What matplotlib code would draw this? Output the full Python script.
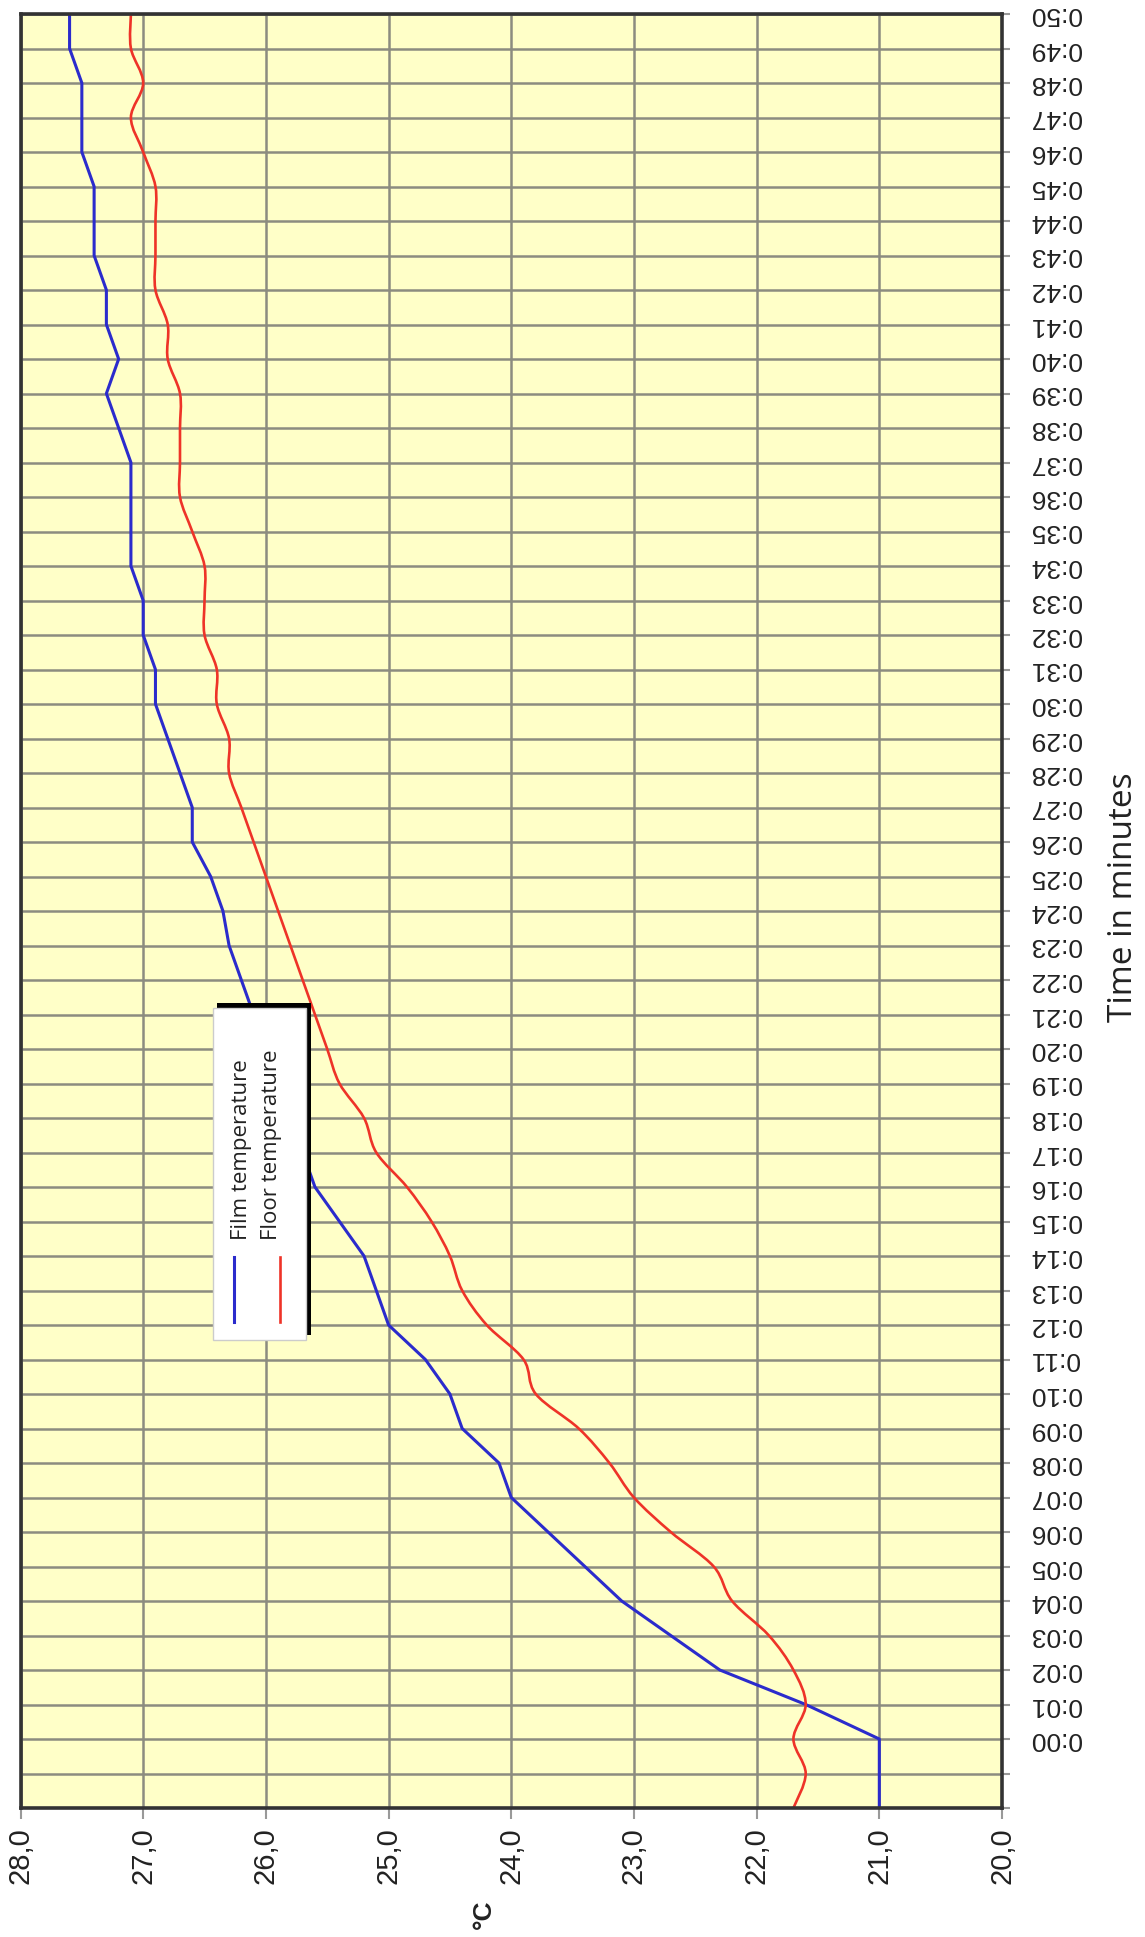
import matplotlib
matplotlib.use("Agg")
import matplotlib.pyplot as plt
from matplotlib.path import Path
from matplotlib.patches import PathPatch, Rectangle
from matplotlib.lines import Line2D

# time categories: two unlabelled slots before 0:00
time_labels = ["", ""] + ["0:%02d" % m for m in range(51)]

film_temp = [21.0, 21.0, 21.0, 21.6, 22.3, 22.7, 23.1, 23.4, 23.7, 24.0,
             24.1, 24.4, 24.5, 24.7, 25.0, 25.1, 25.2, 25.4, 25.6, 25.7,
             25.8, 25.9, 26.0, 26.1, 26.2, 26.3, 26.35, 26.45, 26.6, 26.6,
             26.7, 26.8, 26.9, 26.9, 27.0, 27.0, 27.1, 27.1, 27.1, 27.1,
             27.2, 27.3, 27.2, 27.3, 27.3, 27.4, 27.4, 27.4, 27.5, 27.5,
             27.5, 27.6, 27.6]

floor_temp = [21.7, 21.6, 21.7, 21.6, 21.7, 21.9, 22.2, 22.35, 22.7, 23.0,
              23.2, 23.45, 23.8, 23.9, 24.2, 24.4, 24.5, 24.65, 24.85, 25.1,
              25.2, 25.4, 25.5, 25.6, 25.7, 25.8, 25.9, 26.0, 26.1, 26.2,
              26.3, 26.3, 26.4, 26.4, 26.5, 26.5, 26.5, 26.6, 26.7, 26.7,
              26.7, 26.7, 26.8, 26.8, 26.9, 26.9, 26.9, 26.9, 27.0, 27.1,
              27.0, 27.1, 27.1]

temp_ticks = [20, 21, 22, 23, 24, 25, 26, 27, 28]

BLUE = "#2b2bcc"
RED = "#ee3328"
W, H = 1145, 1937


def smooth_path(xs, ys):
    # excel style smoothed line as bezier segments
    verts = [(xs[0], ys[0])]
    codes = [Path.MOVETO]
    n = len(xs)
    for i in range(n - 1):
        x0, y0 = xs[max(i - 1, 0)], ys[max(i - 1, 0)]
        x1, y1 = xs[i], ys[i]
        x2, y2 = xs[i + 1], ys[i + 1]
        x3, y3 = xs[min(i + 2, n - 1)], ys[min(i + 2, n - 1)]
        verts += [(x1 + (x2 - x0) / 6, y1 + (y2 - y0) / 6),
                  (x2 - (x3 - x1) / 6, y2 - (y3 - y1) / 6),
                  (x2, y2)]
        codes += [Path.CURVE4] * 3
    return Path(verts, codes)


fig = plt.figure(figsize=(W / 100, H / 100), dpi=100)
ax = fig.add_axes([20.5 / W, 1 - 1808 / H, (1002 - 20.5) / W, (1808 - 14) / H])
ax.set_facecolor("#ffffc8")

idx = list(range(len(time_labels)))
ax.plot(film_temp, idx, color=BLUE, lw=2.2, solid_joinstyle="round", zorder=3)
ax.add_patch(PathPatch(smooth_path(floor_temp, idx), fill=False,
                       edgecolor=RED, lw=1.9, zorder=3))

ax.set_xlim(28, 20)
ax.set_ylim(0, len(time_labels) - 1)

ax.set_xticks(temp_ticks)
ax.set_xticklabels([("%.1f" % t).replace(".", ",") for t in temp_ticks],
                   rotation=90, fontsize=21, family="Liberation Sans",
                   color="#222222")
ax.set_yticks(idx)
ax.yaxis.tick_right()
ax.set_yticklabels(time_labels, rotation=180, fontsize=19,
                   family="Liberation Sans", color="#222222", va="center")

ax.tick_params(axis="x", length=8, width=1.5, color="#999999", pad=6)
ax.tick_params(axis="y", length=6, width=1.5, color="#999999", pad=14)

ax.grid(True, color="#8c8c80", lw=1.8)
ax.set_axisbelow(True)
for s in ax.spines.values():
    s.set_color("#333333")
    s.set_linewidth(2.6)
    s.set_zorder(4)

fig.text(1124 / W, 1 - 897 / H, "Time in minutes", rotation=90,
         fontsize=24, family="Open Sans", color="#222222",
         ha="center", va="center")
fig.text(484 / W, 1 - 1914 / H, "°C", rotation=90, fontsize=19,
         family="Liberation Sans", weight="bold", color="#222222",
         ha="center", va="center")

# legend, drawn by hand because it is rotated
def fx(px):
    return px / W


def fy(py):
    return 1 - py / H


fig.add_artist(Rectangle((fx(217), fy(1335)), fx(311) - fx(217),
                         fy(1003) - fy(1335), transform=fig.transFigure,
                         facecolor="black", edgecolor="none", zorder=5))
fig.add_artist(Rectangle((fx(213), fy(1340)), fx(306) - fx(213),
                         fy(1008) - fy(1340), transform=fig.transFigure,
                         facecolor="white", edgecolor="#cccccc", lw=1,
                         zorder=6))
fig.add_artist(Line2D([fx(234), fx(234)], [fy(1322), fy(1257)],
                      transform=fig.transFigure, color=BLUE, lw=2.2, zorder=7))
fig.add_artist(Line2D([fx(280), fx(280)], [fy(1322), fy(1257)],
                      transform=fig.transFigure, color=RED, lw=1.9, zorder=7))
fig.text(fx(241), fy(1240), "Film temperature", rotation=90, fontsize=16,
         family="Open Sans", color="#222222", ha="center", va="bottom",
         zorder=7)
fig.text(fx(271), fy(1240), "Floor temperature", rotation=90, fontsize=16,
         family="Open Sans", color="#222222", ha="center", va="bottom",
         zorder=7)

fig.savefig("out.png", dpi=100)
